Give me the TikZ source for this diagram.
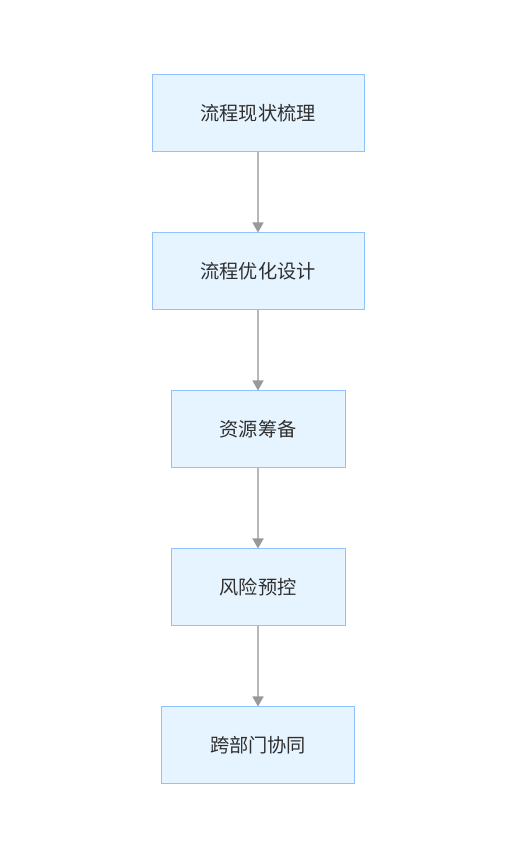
\documentclass[tikz,border=0pt]{standalone}
\usepackage{fontspec}
\setmainfont{Noto Sans CJK SC}
\usetikzlibrary{positioning,arrows.meta}
\definecolor{boxfill}{HTML}{E6F4FF}
\definecolor{boxline}{HTML}{91C0FF}
\definecolor{linkgray}{HTML}{B8B8B8}
\definecolor{headgray}{HTML}{999999}
\definecolor{textgray}{HTML}{2F2F2F}
\tikzset{
  stage/.style={draw=boxline, fill=boxfill, line width=1pt, minimum height=77pt,
    inner sep=0pt, text=textgray, font=\fontsize{19.2}{21}\selectfont},
  link/.style={draw=linkgray, line width=1.6pt,
    -{Triangle[length=10pt,width=11pt,fill=headgray,color=headgray]}}
}
\begin{document}
\begin{tikzpicture}[x=1pt, y=1pt, node distance=80pt]
  \useasboundingbox (0,0) rectangle (513,851);
  \node[stage, minimum width=212pt] (A) at (258,737.5) {流程现状梳理};
  \node[stage, minimum width=212pt, below=of A] (B) {流程优化设计};
  \node[stage, minimum width=174pt, below=of B] (C) {资源筹备};
  \node[stage, minimum width=174pt, below=of C] (D) {风险预控};
  \node[stage, minimum width=193pt, below=of D] (E) {跨部门协同};

  \path[link] (A) -- (B);
  \path[link] (B) -- (C);
  \path[link] (C) -- (D);
  \path[link] (D) -- (E);
\end{tikzpicture}
\end{document}
